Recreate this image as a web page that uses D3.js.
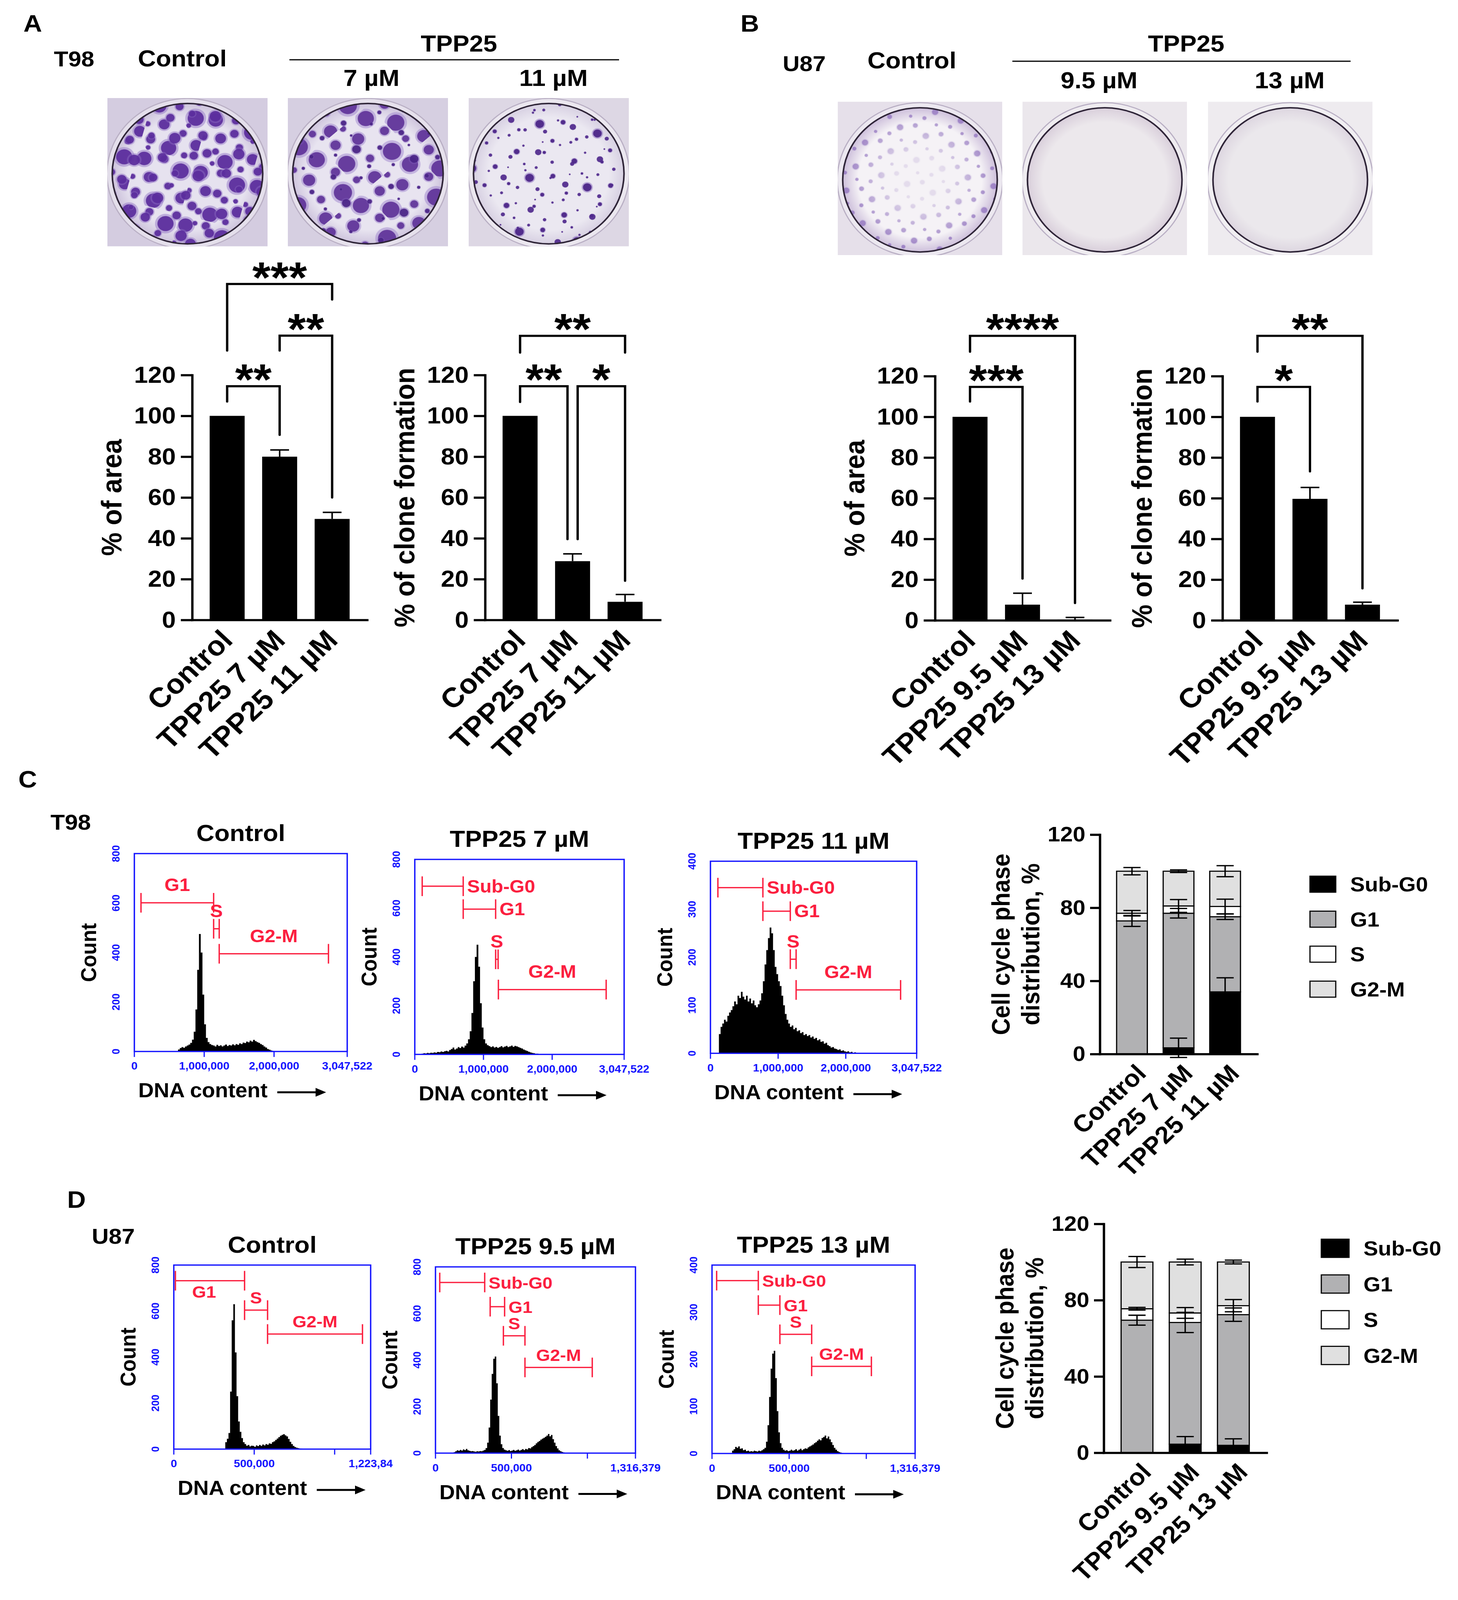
<!DOCTYPE html>
<html>
<head>
<meta charset="utf-8">
<script src="https://cdn.jsdelivr.net/npm/d3@7"></script>
<style>
  html, body { margin: 0; padding: 0; background: #fff; overflow: hidden; }
  text { font-family: "Liberation Sans", Arial, Helvetica, sans-serif; font-weight: bold; }
</style>
</head>
<body>
<script>
// ---------------- data ----------------
var groupsT98 = ["Control", "TPP25 7 µM", "TPP25 11 µM"];
var groupsU87 = ["Control", "TPP25 9.5 µM", "TPP25 13 µM"];
var barTicks = [0, 20, 40, 60, 80, 100, 120];

var areaT98 = [100, 80, 49.5];
var areaT98Err = [0, 3.3, 3.2];
var cloneT98 = [100, 28.8, 8.9];
var cloneT98Err = [0, 3.6, 3.6];
var areaU87 = [100, 7.7, 0.4];
var areaU87Err = [0, 5.6, 1.0];
var cloneU87 = [100, 59.7, 7.7];
var cloneU87Err = [0, 5.6, 1.2];

// [group a, group b, stars, bracket top, left leg end, right leg end] (in % units)
var sigAreaT98 = [[0, 1, "**", 114.5, 107, 90.7], [1, 2, "**", 139.3, 132, 60], [0, 2, "***", 164.6, 132, 157]];
var sigCloneT98 = [[0, 1, "**", 114.5, 106.8, 39.6], [1, 2, "*", 114.5, 39.6, 19.2], [0, 2, "**", 139.2, 131, 131]];
var sigAreaU87 = [[0, 1, "***", 114.7, 107.5, 20.5], [0, 2, "****", 139.8, 132, 8.5]];
var sigCloneU87 = [[0, 1, "*", 114.7, 107.5, 73.2], [0, 2, "**", 139.8, 132, 15.7]];

// cell cycle phase distribution (%), one value per group
var phases = ["Sub-G0", "G1", "S", "G2-M"];
var cycleTicks = [0, 40, 80, 120];
var cycleT98SubG0 = [0, 3.4, 34];
var cycleT98G1 = [72.8, 73.6, 41.1];
var cycleT98S = [4.2, 4.0, 5.6];
var cycleT98G2M = [23.0, 19.0, 19.3];
var cycleT98SubG0Err = [0, 5.3, 7.7];
var cycleT98G1Err = [3.0, 2.6, 1.5];
var cycleT98SErr = [1.5, 3.5, 4.0];
var cycleT98G2MErr = [2.0, 0.7, 3.0];

var cycleU87SubG0 = [0, 4.5, 3.9];
var cycleU87G1 = [69.5, 63.8, 68.5];
var cycleU87S = [6.0, 5.0, 4.7];
var cycleU87G2M = [24.5, 26.7, 22.9];
var cycleU87SubG0Err = [0, 4.0, 3.4];
var cycleU87G1Err = [2.6, 5.3, 3.5];
var cycleU87SErr = [0.7, 2.8, 3.2];
var cycleU87G2MErr = [2.9, 1.5, 1.0];

// flow histograms: counts per bin
var histT98Step = 25000;
var histT98CtrlStart = 625000;
var histT98Ctrl = [8, 14, 18, 15, 20, 24, 28, 35, 48, 80, 170, 330, 475, 400, 230, 110, 55, 38, 30, 26,
  24, 20, 27, 22, 25, 20, 24, 28, 22, 26, 24, 29, 25, 30, 27, 33, 30, 36, 34, 40,
  37, 44, 40, 47, 42, 38, 35, 30, 26, 20, 16, 10, 7, 4, 2];
var histT98LowStart = 100000;
var histT98Low = [3, 5, 4, 6, 5, 7, 6, 8, 7, 10, 9, 12, 10, 13, 15, 12, 18, 22, 28, 20,
  24, 30, 26, 32, 28, 36, 45, 62, 95, 170, 300, 400, 450, 360, 210, 110, 62, 45, 38, 34,
  30, 33, 28, 31, 27, 30, 34, 29, 32, 35, 30, 33, 36, 31, 35, 33, 30, 27, 24, 20,
  17, 14, 11, 8, 6, 5, 3, 3, 2, 2, 1, 1];
var histT98HighStart = 125000;
var histT98High = [40, 55, 62, 70, 66, 78, 85, 90, 98, 108, 102, 120, 115, 128, 118, 112, 120, 108, 114, 104,
  110, 100, 96, 102, 110, 125, 150, 185, 215, 240, 262, 250, 215, 180, 165, 150, 140, 120, 100, 82,
  70, 62, 55, 58, 50, 53, 46, 48, 42, 44, 38, 40, 36, 38, 33, 35, 30, 32, 27, 29,
  24, 25, 20, 22, 17, 15, 12, 13, 10, 9, 7, 8, 5, 6, 4, 3, 4, 2, 3, 1, 2, 1, 1, 0];

var histU87Step = 10000;
var histU87CtrlStart = 320000;
var histU87Ctrl = [30, 45, 70, 250, 560, 630, 420, 230, 120, 75, 48, 30, 22, 15, 18, 12, 15, 14, 10, 16,
  13, 18, 14, 20, 16, 22, 19, 25, 23, 30, 34, 40, 46, 52, 58, 62, 65, 60, 55, 44,
  32, 22, 14, 9, 6, 4, 3, 2, 1, 0];
var histU87LowStart = 120000;
var histU87Low = [4, 8, 12, 10, 14, 11, 16, 13, 18, 12, 10, 8, 9, 7, 6, 8, 7, 9, 8, 11,
  14, 22, 45, 110, 230, 340, 405, 415, 300, 160, 75, 38, 22, 15, 12, 10, 13, 9, 11, 14,
  10, 12, 15, 11, 14, 17, 13, 18, 16, 22, 20, 26, 30, 35, 42, 48, 52, 58, 62, 66,
  70, 75, 82, 72, 78, 60, 45, 30, 20, 12, 8, 5, 3, 1, 0];
var histU87HighStart = 130000;
var histU87High = [6, 9, 14, 12, 15, 10, 11, 7, 8, 5, 6, 4, 5, 4, 6, 5, 4, 6, 5, 7,
  9, 12, 25, 60, 120, 180, 212, 218, 160, 90, 45, 22, 12, 8, 6, 7, 5, 6, 8, 6,
  7, 9, 6, 8, 10, 7, 9, 11, 10, 13, 15, 17, 19, 22, 24, 27, 30, 28, 33, 35,
  38, 32, 36, 30, 24, 18, 12, 8, 5, 3, 2, 1, 0];

// gates: [name, from, to, count level, label side]
var gatesT98Ctrl = [["G1", 95000, 1135000, 601, "above"], ["S", 1135000, 1215000, 496, "above"], ["G2-M", 1215000, 2779000, 395, "above"]];
var gatesT98Low = [["Sub-G0", 108000, 705000, 690, "right"], ["G1", 705000, 1177000, 596, "right"], ["S", 1177000, 1213000, 390, "above"], ["G2-M", 1217000, 2786000, 266, "above"]];
var gatesT98High = [["Sub-G0", 110000, 775000, 345, "right"], ["G1", 775000, 1180000, 296, "right"], ["S", 1180000, 1266000, 196, "above"], ["G2-M", 1266000, 2810000, 132, "above"]];
var gatesU87Ctrl = [["G1", 10000, 440000, 732, "below"], ["S", 440000, 583000, 604, "above"], ["G2-M", 583000, 1173000, 500, "above"]];
var gatesU87Low = [["Sub-G0", 28000, 324000, 733, "right"], ["G1", 360000, 455000, 629, "right"], ["S", 447000, 589000, 504, "above"], ["G2-M", 589000, 1032000, 368, "above"]];
var gatesU87High = [["Sub-G0", 30000, 300000, 367, "right"], ["G1", 300000, 440000, 315, "right"], ["S", 440000, 646000, 253, "above"], ["G2-M", 646000, 1033000, 185, "above"]];

var xMaxT98 = 3047522, xTicksT98 = [0, 1000000, 2000000, 3047522], xLabelsT98 = ["0", "1,000,000", "2,000,000", "3,047,522"];
var xMaxU87Ctrl = 1223840, xTicksU87Ctrl = [0, 500000, 1000000, 1223840], xLabelsU87Ctrl = ["0", "500,000", "", "1,223,84"];
var xMaxU87 = 1316379, xTicksU87 = [0, 500000, 1000000, 1316379], xLabelsU87 = ["0", "500,000", "", "1,316,379"];
var countTicks800 = [0, 200, 400, 600, 800], countTicks400 = [0, 100, 200, 300, 400];

// ---------------- drawing ----------------
var W = 3733, H = 4390;
var svg = d3.select("body").append("svg")
  .attr("viewBox", "0 0 " + W + " " + H)
  .attr("preserveAspectRatio", "none")
  .style("width", "100vw").style("height", "100vh").style("display", "block");
svg.append("rect").attr("width", W).attr("height", H).attr("fill", "#fff");
var defs = svg.append("defs");
var RED = "#fb1f3f", BLUE = "#1414ff";

function txt(s, x, y, size, anchor, color) {
  return svg.append("text").attr("x", x).attr("y", y).attr("font-size", size)
    .attr("text-anchor", anchor || "start").attr("fill", color || "#000").text(s);
}

// ---- petri dish photos (drawn, decorative) ----
var dishN = 0;
function spotPattern(id, size, rot, scale, spots, color, halo) {
  var p = defs.append("pattern").attr("id", id).attr("patternUnits", "userSpaceOnUse")
    .attr("width", size).attr("height", size)
    .attr("patternTransform", "rotate(" + rot + ") scale(" + scale + ")");
  spots.forEach(function(s) {
    if (halo) p.append("circle").attr("cx", s[0]).attr("cy", s[1]).attr("r", s[2] * 1.3).attr("fill", halo).attr("opacity", 0.45);
    p.append("circle").attr("cx", s[0]).attr("cy", s[1]).attr("r", s[2]).attr("fill", color).attr("opacity", 0.92);
  });
}
var denseSpots = [[18, 22, 16], [62, 12, 9], [104, 30, 18], [40, 62, 12], [86, 72, 8], [122, 92, 13], [20, 104, 10], [64, 114, 17], [102, 122, 7], [4, 70, 6]];
var medSpots = [[15, 20, 9], [60, 35, 12], [30, 75, 7], [85, 80, 10], [50, 95, 5]];
var sparseSpots = [[25, 30, 7], [95, 20, 4], [70, 95, 11], [20, 120, 4], [128, 80, 6], [50, 60, 3], [110, 135, 5]];
var speckSpots = [[10, 12, 6], [45, 30, 8], [25, 55, 5], [60, 62, 4]];
spotPattern("pDenseA", 130, 15, 1.15, denseSpots, "#5a2c9c", "#8c6bc4");
spotPattern("pDenseB", 130, 48, 1.3, denseSpots, "#603399", "#967bcb");
spotPattern("pMedA", 100, 60, 1.2, medSpots, "#5a2c9c", "#8c6bc4");
spotPattern("pSparseA", 150, 10, 1, sparseSpots, "#4a2386", "#7d5cb8");
spotPattern("pSparseB", 150, 52, 0.75, sparseSpots, "#4f288c", null);
spotPattern("pSpeck", 70, 20, 1, speckSpots, "#9b80c4", "#c2b1dc");

var rimGrad = defs.append("radialGradient").attr("id", "rimGrad");
rimGrad.append("stop").attr("offset", "0.3").attr("stop-color", "#333");
rimGrad.append("stop").attr("offset", "0.9").attr("stop-color", "#fff");
defs.append("mask").attr("id", "rimMask").attr("maskContentUnits", "objectBoundingBox")
  .append("rect").attr("width", 1).attr("height", 1).attr("fill", "url(#rimGrad)");

function dish(x0, y0, w, h, bg, wall, inner, edge, pats, rimOnly) {
  var id = "dish" + (dishN++);
  defs.append("clipPath").attr("id", id + "c").append("rect").attr("x", x0).attr("y", y0).attr("width", w).attr("height", h);
  var gr = defs.append("radialGradient").attr("id", id + "g");
  gr.append("stop").attr("offset", "0").attr("stop-color", inner);
  gr.append("stop").attr("offset", "0.8").attr("stop-color", inner);
  gr.append("stop").attr("offset", "1").attr("stop-color", edge);
  var g = svg.append("g").attr("clip-path", "url(#" + id + "c)");
  var cx = x0 + w / 2, cy = y0 + h / 2 + 4, r = w * 0.47;
  g.append("rect").attr("x", x0).attr("y", y0).attr("width", w).attr("height", h).attr("fill", bg);
  g.append("circle").attr("cx", cx).attr("cy", cy).attr("r", r * 1.07).attr("fill", wall);
  g.append("circle").attr("cx", cx).attr("cy", cy).attr("r", r).attr("fill", "url(#" + id + "g)");
  defs.append("clipPath").attr("id", id + "i").append("circle").attr("cx", cx).attr("cy", cy).attr("r", r);
  var cg = g.append("g").attr("clip-path", "url(#" + id + "i)");
  pats.forEach(function(p) {
    var rr = cg.append("rect").attr("x", x0).attr("y", y0).attr("width", w).attr("height", h).attr("fill", "url(#" + p + ")");
    if (rimOnly) rr.attr("mask", "url(#rimMask)");
  });
  g.append("circle").attr("cx", cx).attr("cy", cy).attr("r", r).attr("fill", "none").attr("stroke", "#2f2538").attr("stroke-width", 4);
  g.append("circle").attr("cx", cx).attr("cy", cy).attr("r", r * 1.07).attr("fill", "none").attr("stroke", "#b9afc4").attr("stroke-width", 3);
}

// panel A header
txt("A", 60, 87, 66);
txt("T98", 138, 182, 60);
txt("Control", 353, 182, 64);
txt("TPP25", 1175, 141, 64, "middle");
svg.append("line").attr("x1", 741).attr("x2", 1585).attr("y1", 164).attr("y2", 164).attr("stroke", "#000").attr("stroke-width", 3);
txt("7 µM", 951, 236, 64, "middle");
txt("11 µM", 1417, 236, 64, "middle");
dish(275, 269, 410, 407, "#d4cce0", "#e4dfeb", "#e6e2ef", "#cdc3dc", ["pDenseA", "pMedA"]);
dish(737, 269, 410, 407, "#d6cfe1", "#e6e1ec", "#e8e4f0", "#cec4dd", ["pDenseB", "pSparseA"]);
dish(1200, 269, 410, 407, "#ddd7e4", "#ebe7ef", "#ebe8f1", "#d7d0e2", ["pSparseA", "pSparseB"]);

// panel B header
txt("B", 1896, 87, 66);
txt("U87", 2004, 195, 60);
txt("Control", 2221, 188, 64);
txt("TPP25", 3037, 141, 64, "middle");
svg.append("line").attr("x1", 2592).attr("x2", 3458).attr("y1", 168).attr("y2", 168).attr("stroke", "#000").attr("stroke-width", 3);
txt("9.5 µM", 2814, 242, 64, "middle");
txt("13 µM", 3302, 242, 64, "middle");
dish(2145, 279, 421, 421, "#e6e0ea", "#ece8f0", "#f5f2f6", "#cdbfdb", ["pSpeck"], true);
dish(2618, 279, 421, 421, "#ebe7ec", "#efecf0", "#ece8ec", "#d9cfdb", []);
dish(3093, 279, 421, 421, "#eeebef", "#f1eff2", "#ebe8ec", "#ddd6e0", []);

// ---- bar charts with significance brackets ----
function barChart(o) {
  var g = svg.append("g");
  var x = d3.scaleBand().domain(o.cats).range([o.left, o.left + 448]).paddingInner(1 / 3).paddingOuter(1 / 3);
  var y = d3.scaleLinear().domain([0, 120]).range([o.bottom, o.top]);
  var bw = x.bandwidth();
  var rows = o.cats.map(function(c, i) { return {cat: c, v: o.values[i], e: o.errs[i]}; });

  g.selectAll(".bar").data(rows).enter().append("rect")
    .attr("x", function(d) { return x(d.cat); })
    .attr("width", bw)
    .attr("y", function(d) { return y(d.v); })
    .attr("height", function(d) { return y(0) - y(d.v); })
    .attr("fill", "#000");

  g.selectAll(".err").data(rows.filter(function(d) { return d.e > 0; })).enter().append("path")
    .attr("d", function(d) {
      var cx = x(d.cat) + bw / 2, top = y(d.v + d.e);
      return "M" + cx + "," + y(d.v) + "V" + top + "M" + (cx - 24) + "," + top + "H" + (cx + 24);
    })
    .attr("stroke", "#000").attr("stroke-width", 4).attr("fill", "none");

  var ya = g.append("g").attr("transform", "translate(" + o.left + ",0)")
    .call(d3.axisLeft(y).tickValues(barTicks).tickSize(29).tickSizeOuter(0).tickPadding(13));
  ya.attr("font-family", null);
  ya.select(".domain").attr("stroke-width", 6).attr("stroke-linecap", "square");
  ya.selectAll(".tick line").attr("stroke-width", 6);
  ya.selectAll(".tick text").attr("font-size", 64).attr("fill", "#000");

  var xa = g.append("g").attr("transform", "translate(0," + y(0) + ")")
    .call(d3.axisBottom(x).tickSize(0).tickSizeOuter(0).tickFormat(""));
  xa.select(".domain").attr("stroke-width", 6).attr("stroke-linecap", "square");

  g.selectAll(".cat").data(o.cats).enter().append("text")
    .attr("transform", function(d) { return "translate(" + (x(d) + bw / 2 + 18) + "," + (y(0) + 60) + ") rotate(-45)"; })
    .attr("text-anchor", "end").attr("font-size", 76).text(function(d) { return d; });

  g.append("text").attr("transform", "translate(" + (o.left - 207) + "," + y(60) + ") rotate(-90)")
    .attr("text-anchor", "middle").attr("dy", "0.36em").attr("font-size", 72).text(o.ylabel);

  o.sigs.forEach(function(s) {
    var lx = x(o.cats[s[0]]) + bw / 2, rx = x(o.cats[s[1]]) + bw / 2;
    o.sigs.forEach(function(t) {
      if (t !== s && t[3] === s[3]) {
        if (t[0] === s[1]) rx -= 13;
        if (t[1] === s[0]) lx += 13;
      }
    });
    g.append("path")
      .attr("d", "M" + lx + "," + y(s[4]) + "V" + y(s[3]) + "H" + rx + "V" + y(s[5]))
      .attr("fill", "none").attr("stroke", "#000").attr("stroke-width", 6)
      .attr("stroke-linecap", "round").attr("stroke-linejoin", "miter");
    g.append("text").attr("x", (lx + rx) / 2).attr("y", y(s[3]) + 23)
      .attr("text-anchor", "middle").attr("font-size", 120).text(s[2]);
  });
}

barChart({cats: groupsT98, values: areaT98, errs: areaT98Err, sigs: sigAreaT98, left: 492, top: 1029, bottom: 1701, ylabel: "% of area"});
barChart({cats: groupsT98, values: cloneT98, errs: cloneT98Err, sigs: sigCloneT98, left: 1242, top: 1029, bottom: 1701, ylabel: "% of clone formation"});
barChart({cats: groupsU87, values: areaU87, errs: areaU87Err, sigs: sigAreaU87, left: 2394, top: 1032, bottom: 1702, ylabel: "% of area"});
barChart({cats: groupsU87, values: cloneU87, errs: cloneU87Err, sigs: sigCloneU87, left: 3130, top: 1032, bottom: 1702, ylabel: "% of clone formation"});

// ---- flow cytometry histograms ----
function histogram(o) {
  var g = svg.append("g");
  var x = d3.scaleLinear().domain([0, o.xMax]).range([o.left, o.right]);
  var y = d3.scaleLinear().domain([0, o.yTicks[o.yTicks.length - 1]]).range([o.bottom, o.top]);
  var pts = o.counts.map(function(c, i) { return {v: o.start + i * o.step, c: c}; });
  pts.push({v: o.start + o.counts.length * o.step, c: 0});

  g.append("path").datum(pts)
    .attr("d", d3.area().curve(d3.curveStepAfter)
      .x(function(d) { return x(d.v); }).y0(y(0)).y1(function(d) { return y(d.c); }))
    .attr("fill", "#000");

  g.append("rect").attr("x", o.left).attr("y", o.top).attr("width", o.right - o.left).attr("height", o.bottom - o.top)
    .attr("fill", "none").attr("stroke", BLUE).attr("stroke-width", 3.5);

  g.selectAll(".xt").data(o.xTicks).enter().append("line")
    .attr("x1", function(d) { return x(d); }).attr("x2", function(d) { return x(d); })
    .attr("y1", o.bottom).attr("y2", o.bottom + 15).attr("stroke", BLUE).attr("stroke-width", 3);
  g.selectAll(".xl").data(o.xTicks).enter().append("text")
    .attr("x", function(d) { return x(d); }).attr("y", o.bottom + 50)
    .attr("text-anchor", "middle").attr("font-size", 29).attr("font-weight", "normal").attr("fill", BLUE)
    .text(function(d, i) { return o.xLabels[i]; });
  g.selectAll(".yl").data(o.yTicks).enter().append("text")
    .attr("transform", function(d) { return "translate(" + (o.left - 38) + "," + y(d) + ") rotate(-90)"; })
    .attr("text-anchor", "middle").attr("font-size", 28).attr("font-weight", "normal").attr("fill", BLUE)
    .text(function(d) { return d; });

  o.gates.forEach(function(gt) {
    var x1 = x(gt[1]), x2 = x(gt[2]), yy = y(gt[3]);
    g.append("path").attr("d", "M" + x1 + "," + yy + "H" + x2 + "M" + x1 + "," + (yy - 27) + "V" + (yy + 27) + "M" + x2 + "," + (yy - 27) + "V" + (yy + 27))
      .attr("stroke", RED).attr("stroke-width", 3.5).attr("fill", "none");
    var t = g.append("text").attr("font-size", o.gateFont).attr("fill", RED).text(gt[0]);
    if (gt[4] === "right") t.attr("x", x2 + 10).attr("y", yy + 17);
    else if (gt[4] === "below") t.attr("x", (x1 + x2) / 2 - 15).attr("y", yy + 47).attr("text-anchor", "middle");
    else t.attr("x", (x1 + x2) / 2).attr("y", yy - o.gateGap).attr("text-anchor", "middle");
  });

  g.append("text").attr("x", (o.left + o.right) / 2).attr("y", o.top - 34).attr("text-anchor", "middle")
    .attr("font-size", 64).text(o.title);
  g.append("text").attr("transform", "translate(" + (o.left - 118) + "," + ((o.top + o.bottom) / 2) + ") rotate(-90)")
    .attr("text-anchor", "middle").attr("dy", "0.36em").attr("font-size", 56).text("Count");

  var dna = g.append("text").attr("x", o.left + 10).attr("y", o.bottom + 126).attr("font-size", 55).text("DNA content");
  var ax = o.left + 10 + dna.node().getComputedTextLength() + 25, ay = o.bottom + 112;
  g.append("line").attr("x1", ax).attr("x2", ax + 100).attr("y1", ay).attr("y2", ay).attr("stroke", "#000").attr("stroke-width", 5.5);
  g.append("path").attr("d", "M" + (ax + 125) + "," + ay + "L" + (ax + 98) + "," + (ay - 12) + "L" + (ax + 98) + "," + (ay + 12) + "Z").attr("fill", "#000");
}

txt("C", 47, 2161, 66);
txt("T98", 181, 2276, 60, "middle");
histogram({title: "Control", left: 344, right: 889, top: 2342, bottom: 2885, xMax: xMaxT98, xTicks: xTicksT98, xLabels: xLabelsT98,
  yTicks: countTicks800, counts: histT98Ctrl, start: histT98CtrlStart, step: histT98Step, gates: gatesT98Ctrl, gateFont: 49, gateGap: 32});
histogram({title: "TPP25 7 µM", left: 1062, right: 1598, top: 2358, bottom: 2893, xMax: xMaxT98, xTicks: xTicksT98, xLabels: xLabelsT98,
  yTicks: countTicks800, counts: histT98Low, start: histT98LowStart, step: histT98Step, gates: gatesT98Low, gateFont: 49, gateGap: 32});
histogram({title: "TPP25 11 µM", left: 1819, right: 2347, top: 2363, bottom: 2890, xMax: xMaxT98, xTicks: xTicksT98, xLabels: xLabelsT98,
  yTicks: countTicks400, counts: histT98High, start: histT98HighStart, step: histT98Step, gates: gatesT98High, gateFont: 49, gateGap: 32});

txt("D", 172, 3314, 66);
txt("U87", 290, 3413, 60, "middle");
histogram({title: "Control", left: 445, right: 949, top: 3471, bottom: 3976, xMax: xMaxU87Ctrl, xTicks: xTicksU87Ctrl, xLabels: xLabelsU87Ctrl,
  yTicks: countTicks800, counts: histU87Ctrl, start: histU87CtrlStart, step: histU87Step, gates: gatesU87Ctrl, gateFont: 46, gateGap: 18});
histogram({title: "TPP25 9.5 µM", left: 1115, right: 1627, top: 3476, bottom: 3987, xMax: xMaxU87, xTicks: xTicksU87, xLabels: xLabelsU87,
  yTicks: countTicks800, counts: histU87Low, start: histU87LowStart, step: histU87Step, gates: gatesU87Low, gateFont: 46, gateGap: 18});
histogram({title: "TPP25 13 µM", left: 1823, right: 2343, top: 3471, bottom: 3988, xMax: xMaxU87, xTicks: xTicksU87, xLabels: xLabelsU87,
  yTicks: countTicks400, counts: histU87High, start: histU87HighStart, step: histU87Step, gates: gatesU87High, gateFont: 46, gateGap: 18});

// ---- stacked cell cycle bars ----
var phaseFill = ["#000000", "#b1b1b3", "#ffffff", "#e0e0e0"];
function stacked(o) {
  var g = svg.append("g");
  var x = d3.scaleBand().domain(o.cats).range([o.left, o.right]).paddingInner(0.34).paddingOuter(0.36);
  var y = d3.scaleLinear().domain([0, 120]).range([o.bottom, o.top]);
  var bw = x.bandwidth();
  var rows = o.cats.map(function(c, i) {
    var r = {cat: c};
    phases.forEach(function(p, k) { r[p] = o.series[k][i]; });
    return r;
  });
  var stack = d3.stack().keys(phases)(rows);

  g.selectAll(".layer").data(stack).enter().append("g")
    .attr("fill", function(d, k) { return phaseFill[k]; })
    .selectAll("rect").data(function(d) { return d; }).enter().append("rect")
    .attr("x", function(d) { return x(d.data.cat); }).attr("width", bw)
    .attr("y", function(d) { return y(d[1]); })
    .attr("height", function(d) { return y(d[0]) - y(d[1]); })
    .attr("stroke", "#000").attr("stroke-width", 3);

  stack.forEach(function(layer, k) {
    layer.forEach(function(d, i) {
      var e = o.errs[k][i];
      if (!(e > 0)) return;
      var cx = x(d.data.cat) + bw / 2;
      var hi = y(d[1] + e), lo = y(d[1] - e);
      g.append("path").attr("d", "M" + cx + "," + hi + "V" + lo + "M" + (cx - 22) + "," + hi + "H" + (cx + 22) + "M" + (cx - 22) + "," + lo + "H" + (cx + 22))
        .attr("stroke", "#000").attr("stroke-width", 3.5).attr("fill", "none");
    });
  });

  var ya = g.append("g").attr("transform", "translate(" + o.left + ",0)")
    .call(d3.axisLeft(y).tickValues(cycleTicks).tickSize(25).tickSizeOuter(0).tickPadding(12));
  ya.attr("font-family", null);
  ya.select(".domain").attr("stroke-width", 6).attr("stroke-linecap", "square");
  ya.selectAll(".tick line").attr("stroke-width", 6);
  ya.selectAll(".tick text").attr("font-size", 58).attr("fill", "#000");
  var xa = g.append("g").attr("transform", "translate(0," + y(0) + ")")
    .call(d3.axisBottom(x).tickSize(0).tickSizeOuter(0).tickFormat(""));
  xa.select(".domain").attr("stroke-width", 6).attr("stroke-linecap", "square");

  g.selectAll(".cat").data(o.cats).enter().append("text")
    .attr("transform", function(d) { return "translate(" + (x(d) + bw / 2 + 40) + "," + (y(0) + 57) + ") rotate(-45)"; })
    .attr("text-anchor", "end").attr("font-size", 66).text(function(d) { return d; });

  g.append("text").attr("transform", "translate(" + (o.left - 254) + "," + y(60) + ") rotate(-90)")
    .attr("text-anchor", "middle").attr("dy", "0.36em").attr("font-size", 64).text("Cell cycle phase");
  g.append("text").attr("transform", "translate(" + (o.left - 178) + "," + y(60) + ") rotate(-90)")
    .attr("text-anchor", "middle").attr("dy", "0.36em").attr("font-size", 64).text("distribution, %");

  var lg = g.selectAll(".lg").data(phases).enter().append("g")
    .attr("transform", function(d, k) { return "translate(" + o.legX + "," + (o.legY + k * o.legStep) + ")"; });
  lg.append("rect").attr("width", o.legW).attr("height", o.legH)
    .attr("fill", function(d, k) { return phaseFill[k]; }).attr("stroke", "#000").attr("stroke-width", 3);
  lg.append("text").attr("x", o.legW + 37).attr("y", o.legH / 2).attr("dy", "0.36em")
    .attr("font-size", 56).text(function(d) { return d; });
}

stacked({cats: groupsT98, left: 2816, right: 3219, top: 2290, bottom: 2892,
  series: [cycleT98SubG0, cycleT98G1, cycleT98S, cycleT98G2M],
  errs: [cycleT98SubG0Err, cycleT98G1Err, cycleT98SErr, cycleT98G2MErr],
  legX: 3354, legY: 2404, legStep: 96, legW: 66, legH: 44});
stacked({cats: groupsU87, left: 2826, right: 3243, top: 3358, bottom: 3986,
  series: [cycleU87SubG0, cycleU87G1, cycleU87S, cycleU87G2M],
  errs: [cycleU87SubG0Err, cycleU87G1Err, cycleU87SErr, cycleU87G2MErr],
  legX: 3383, legY: 3400, legStep: 98, legW: 71, legH: 50});
</script>
</body>
</html>
